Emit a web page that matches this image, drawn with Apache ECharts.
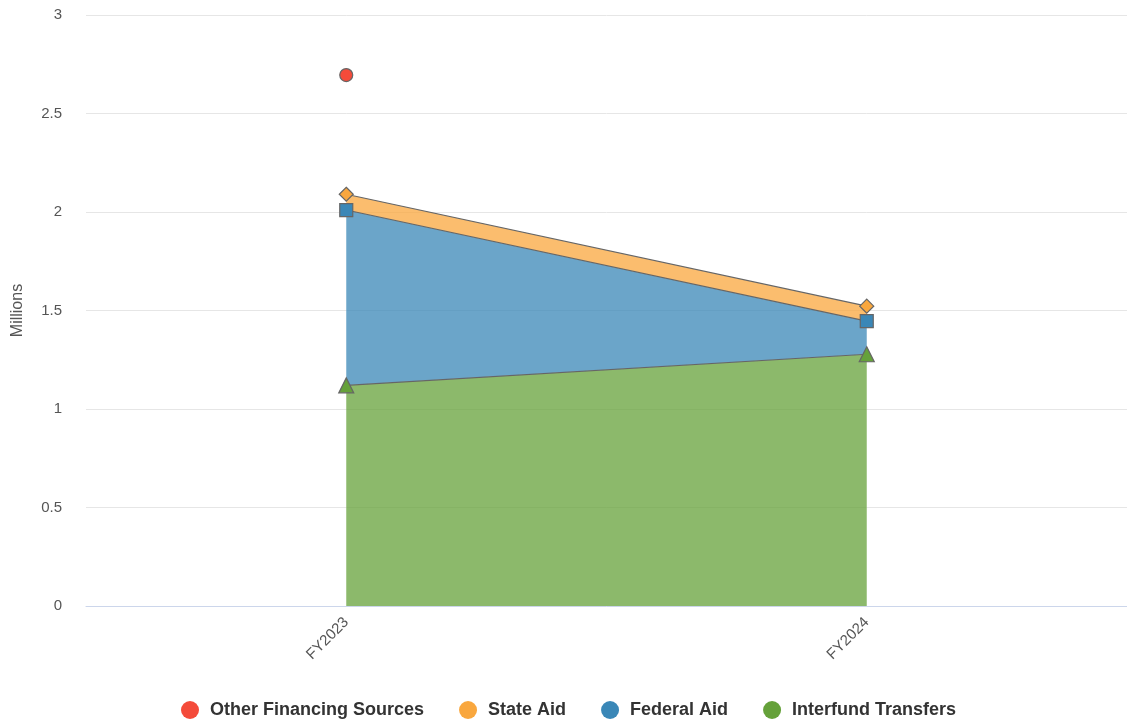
<!DOCTYPE html>
<html><head><meta charset="utf-8">
<script src="https://cdn.jsdelivr.net/npm/echarts@6/dist/echarts.min.js"></script>
<style>html,body{margin:0;padding:0;background:#fff}#c{width:1127px;height:724px}</style>
</head><body><div id="c"></div>
<script>
const categories = ['FY2023', 'FY2024'];
const interfundTransfers = [1.12, 1.278];
const federalAid = [0.89, 0.168];
const stateAid = [0.08, 0.076];
const otherFinancing = [0.605, null];
const yTicks = [0, 0.5, 1, 1.5, 2, 2.5, 3];

const font = 'Liberation Sans, Arial, sans-serif';
const lineStyle = {color: '#666', width: 1.2};
function s(name, data, color, symbol, size, areaOpacity) {
  return {
    name, type: 'line', stack: 'total', data,
    symbol, symbolSize: size,
    itemStyle: {color, borderColor: '#666', borderWidth: 1.2, opacity: 1},
    lineStyle,
    areaStyle: {color, opacity: areaOpacity},
    emphasis: {disabled: true},
    connectNulls: false
  };
}
const chart = echarts.init(document.getElementById('c'));
chart.setOption({
  animation: false,
  color: ['#65a13a', '#3a87b7', '#f9a73e', '#f44b3a'],
  grid: {left: 86, width: 1044, top: 15, bottom: 118, containLabel: false},
  legend: {
    bottom: 0, left: 176, icon: 'circle', itemWidth: 18, itemHeight: 18, itemGap: 35,
    data: ['Other Financing Sources', 'State Aid', 'Federal Aid', 'Interfund Transfers'],
    itemStyle: {borderWidth: 0},
    textStyle: {fontFamily: font, fontSize: 18, fontWeight: 'bold', color: '#333', padding: [0, 0, 0, 6]}
  },
  xAxis: {
    type: 'category', data: categories, boundaryGap: true,
    axisLine: {lineStyle: {color: '#ccd6eb'}},
    axisTick: {show: false},
    axisLabel: {rotate: 45, fontFamily: font, fontSize: 15, color: '#555', margin: 14}
  },
  yAxis: {
    type: 'value', min: yTicks[0], max: yTicks[yTicks.length - 1], interval: 0.5,
    name: 'Millions', nameLocation: 'middle', nameGap: 60, nameRotate: 90,
    nameTextStyle: {fontFamily: font, fontSize: 16, color: '#555'},
    axisLine: {show: false}, axisTick: {show: false},
    axisLabel: {fontFamily: font, fontSize: 15, color: '#555', margin: 24},
    splitLine: {lineStyle: {color: '#e6e6e6'}}
  },
  series: [
    s('Interfund Transfers', interfundTransfers, '#65a13a', 'triangle', 15, 0.75),
    s('Federal Aid', federalAid, '#3a87b7', 'rect', 13, 0.75),
    s('State Aid', stateAid, '#f9a73e', 'diamond', 14, 0.75),
    s('Other Financing Sources', otherFinancing, '#f44b3a', 'circle', 13, 0.75)
  ]
});
</script></body></html>
